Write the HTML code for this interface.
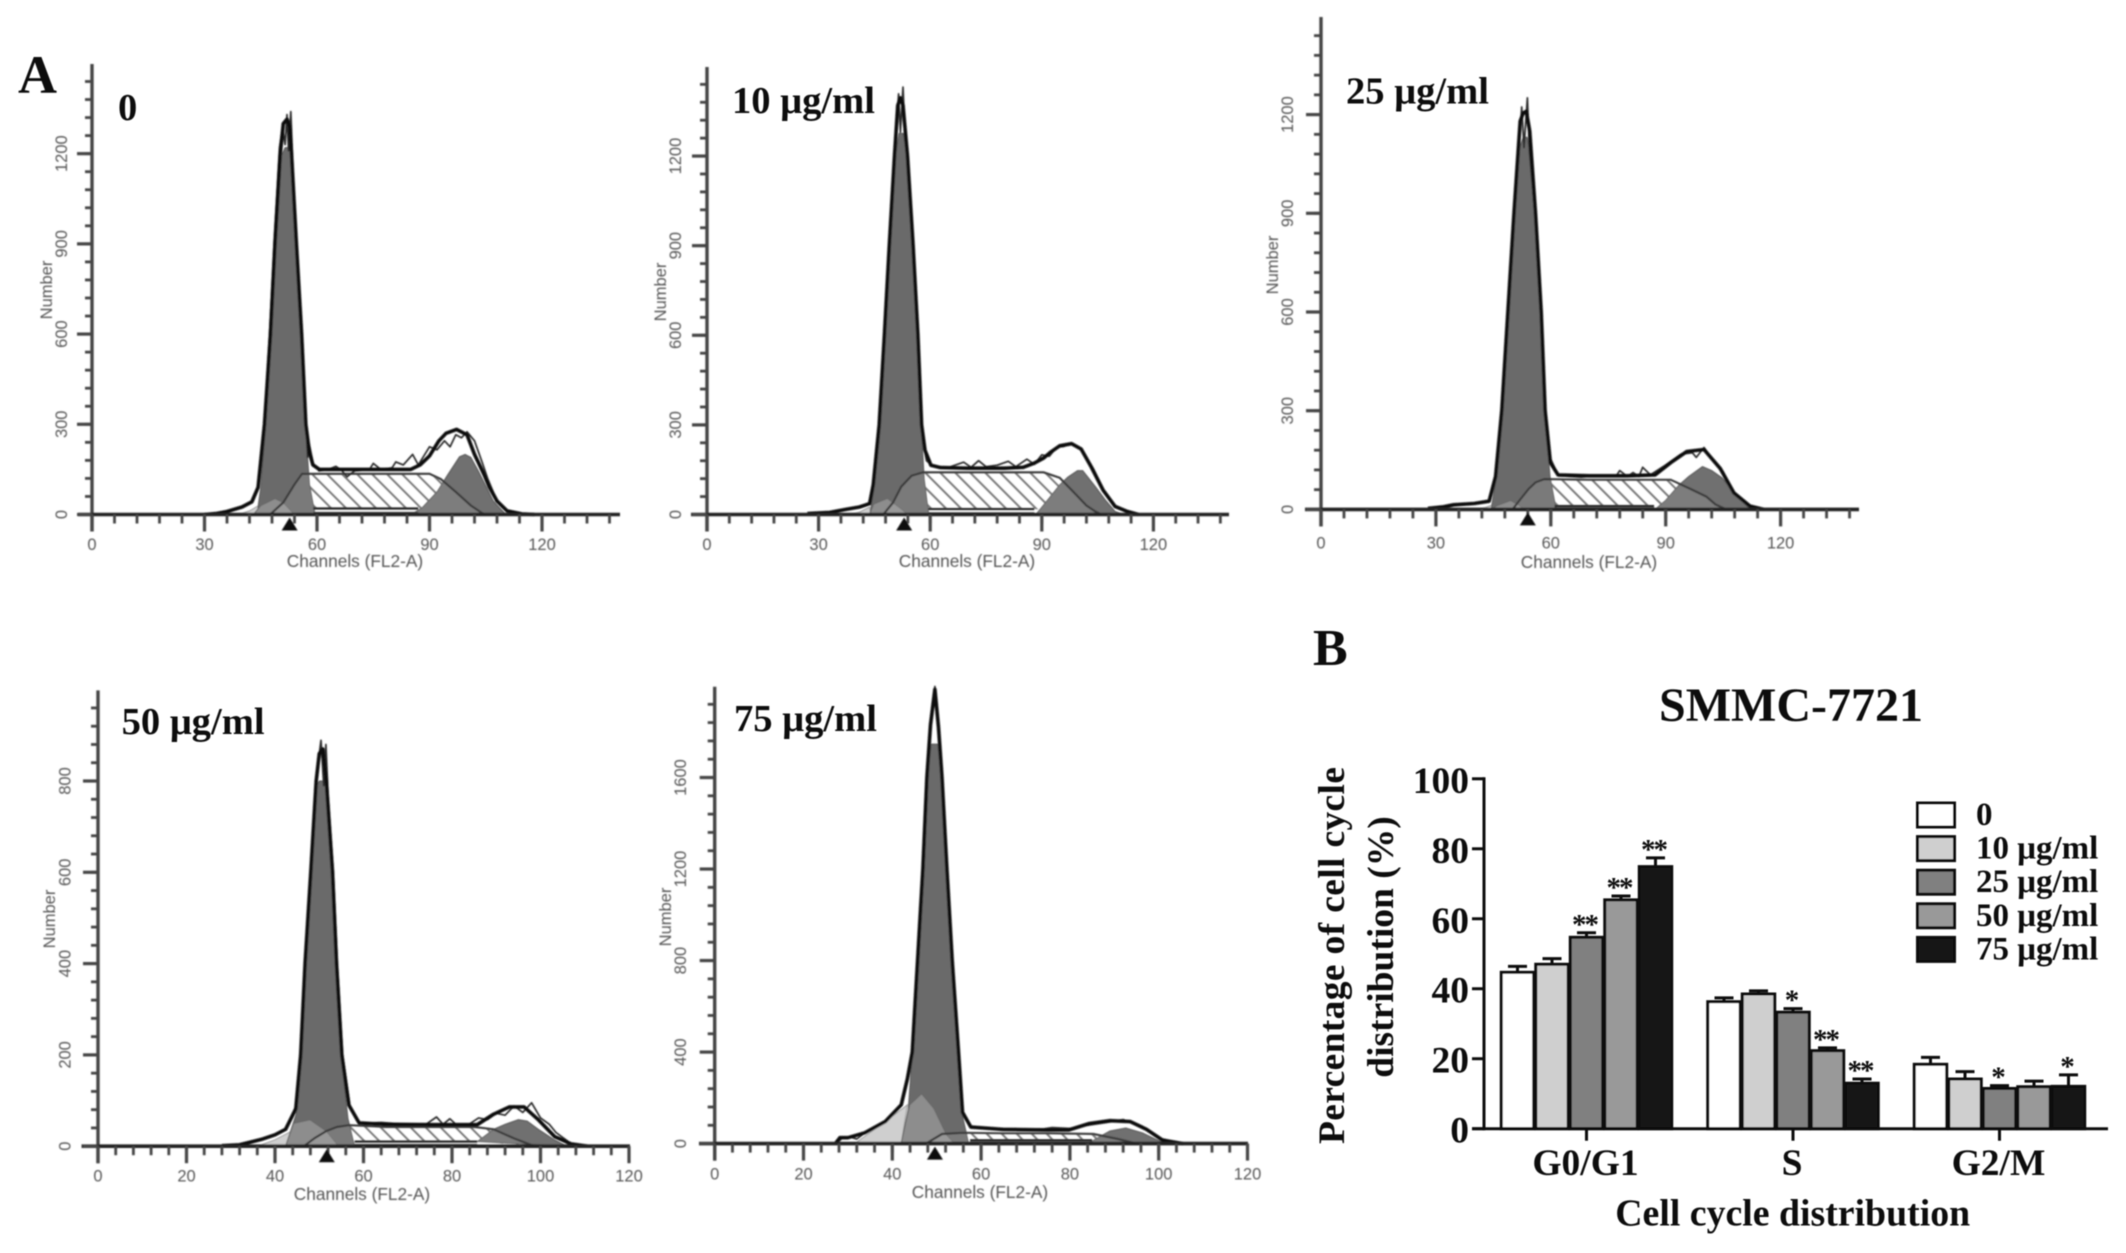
<!DOCTYPE html>
<html lang="en">
<head>
<meta charset="utf-8">
<title>Cell cycle distribution in SMMC-7721 cells</title>
<style>
html,body{margin:0;padding:0;background:#fff;}
svg{display:block;}
.bold{font-family:"Liberation Serif",serif;font-weight:bold;fill:#111;}
.small{font-family:"Liberation Sans",sans-serif;fill:#555;}
</style>
</head>
<body>
<svg id="figure" xmlns="http://www.w3.org/2000/svg" width="2126" height="1253" viewBox="0 0 2126 1253">
<defs>
<filter id="soft" filterUnits="userSpaceOnUse" x="0" y="0" width="2126" height="1253"><feGaussianBlur stdDeviation="0.8"/></filter>
<filter id="softer" filterUnits="userSpaceOnUse" x="0" y="0" width="2126" height="1253"><feGaussianBlur stdDeviation="0.5"/></filter>
<pattern id="hatch" patternUnits="userSpaceOnUse" width="10.6" height="10.6" patternTransform="rotate(-45)"><line x1="2" y1="0" x2="2" y2="10.6" stroke="#666" stroke-width="2"/></pattern>
</defs>
<rect width="2126" height="1253" fill="#fff"/>
<text class="bold" x="18" y="93" font-size="54" filter="url(#softer)">A</text>
<text class="bold" x="1313" y="665" font-size="52" filter="url(#softer)">B</text>
<g id="panels"></g>
<g id="barchart" filter="url(#softer)"></g>
</svg>
<script>
/* ---------- Flow cytometry histogram data: [channel, cell count] ---------- */
const xTicksBy30 = [0, 30, 60, 90, 120];
const xTicksBy20 = [0, 20, 40, 60, 80, 100, 120];
const yTicksBy300 = [0, 300, 600, 900, 1200];
const yTicksBy200 = [0, 200, 400, 600, 800];
const yTicksBy400 = [0, 400, 800, 1200, 1600];

const dose0Fit = [[30,0],[33,3],[36,10],[40,25],[42.6,42],[44.3,90],[46,300],[47.6,600],[48.8,900],[50.2,1200],[51,1300],[52,1315],[52.7,1290],[53.2,1200],[54.5,900],[55.9,600],[57,300],[58,205],[58.9,165],[60.6,150],[70,150],[80,150],[85,150],[87.5,165],[90,195],[92.5,245],[94.4,270],[97.2,283],[100,265],[102,200],[104.5,134],[106,90],[108,45],[110.7,12],[114.6,2],[118,0]];
const dose0Raw = [[31,0],[36,12],[39,22],[41,32],[43,45],[44.5,100],[46,310],[47.4,620],[48.6,920],[50,1220],[50.8,1290],[51.5,1230],[52,1330],[52.4,1210],[53,1340],[53.6,1150],[54.6,900],[56,620],[57,340],[57.5,190],[58,230],[59,170],[60.5,145],[63,150],[65,160],[66.5,148],[68,125],[70,145],[74,150],[75,170],[77,150],[80,155],[81,175],[83,165],[85.5,200],[87,165],[90,225],[92,215],[94,245],[95.5,225],[97,265],[98.5,255],[100,275],[102,245],[104,175],[105.5,120],[108,45],[111,10],[115,1]];
const dose0G1 = [[44,0],[45,90],[46.2,280],[47.8,590],[49,890],[50.4,1190],[51.5,1220],[52.6,1220],[53.1,1190],[54.4,890],[55.8,590],[56.9,290],[58,100],[59.5,0]];
const dose0Apoptotic = [[43,0],[45,30],[48.8,53],[51,40],[54,0]];
const dose0Debris = [[39,0],[42,12],[44.5,30],[45,0]];
const dose0SPhase = [[47.5,0],[51,40],[54,100],[56,135],[60,135],[70,135],[80,135],[90,135],[93,118],[97,75],[101,30],[104,5],[105,0]];
const dose0HatchBase = [[59,20],[87,20]];
const dose0Floor = [[59,6],[87,6]];
const dose0G2 = [[85,0],[88,22],[92,75],[95,135],[98,192],[99.5,200],[101,190],[103,145],[105,95],[107,45],[110,5],[111,0]];
const dose0Marker = 52.7;

const dose10Fit = [[27,3],[33,7],[37.3,17],[41,25],[43.7,36],[44.7,100],[46.3,300],[47.7,600],[49,900],[50.4,1200],[51.3,1370],[52,1395],[52.7,1370],[53.9,1200],[55.4,900],[56.7,600],[57.7,300],[58.6,215],[60.2,165],[62.8,157],[70,155],[80,155],[85,158],[88,172],[90.5,189],[92.5,210],[94.8,230],[98,237],[100.6,219],[103.3,159],[106.5,81],[109.7,27],[113,10],[116,0]];
const dose10Raw = [[28,4],[35,8],[37,18],[41,26],[43.7,40],[45,125],[46.5,330],[47.9,620],[49.2,910],[50.5,1220],[51.5,1408],[52,1280],[52.7,1431],[53.3,1250],[54,1190],[55.5,890],[56.8,610],[57.6,290],[58,245],[59,180],[61,160],[65,158],[69,175],[71,158],[73,180],[75,160],[78,165],[81,178],[83,160],[86,185],[88,168],[90,200],[92,195],[94,225],[96,228],[98,240],[101,215],[104,150],[106.5,85],[110,25],[114,7],[116,0]];
const dose10G1 = [[43.8,0],[44.8,80],[46.4,290],[47.8,590],[49.1,890],[50.5,1190],[51.6,1276],[52.8,1276],[53.8,1190],[55.3,890],[56.6,590],[57.6,290],[58.4,120],[59.6,0]];
const dose10Apoptotic = [[43.7,0],[44.8,35],[48.5,54],[52,21],[54,0]];
const dose10Debris = [[38,0],[41,8],[43.7,25],[44,0]];
const dose10SPhase = [[47.4,0],[50,40],[52.2,93],[55,130],[58,141],[70,141],[80,141],[90.5,141],[94.8,123],[99,69],[102,30],[104.4,10],[106,0]];
const dose10HatchBase = [[59.5,18],[88,18]];
const dose10Floor = [[59.5,5],[88,5]];
const dose10G2 = [[88.4,0],[91,40],[94.8,99],[97,125],[99.6,147],[101,147],[103,115],[104.4,93],[107,50],[109.7,10],[112,0]];
const dose10Marker = 53;

const dose25Fit = [[27.9,3],[32,8],[34.6,14],[40,18],[43.9,25],[45.6,100],[47.2,300],[48.8,600],[50.4,900],[52,1180],[52.8,1205],[53.6,1210],[54.5,1150],[56,900],[57.5,600],[58.5,300],[59.9,142],[61.9,105],[70,102],[80,102],[87.2,105],[91.3,142],[95.5,176],[100,182],[104.2,125],[107.8,50],[112,10],[115.6,0]];
const dose25Raw = [[28,3],[34,12],[38,15],[42,20],[44,28],[45.8,110],[47.4,320],[49,620],[50.6,910],[52,1150],[52.4,1223],[53,1100],[53.9,1251],[54.4,1090],[55.9,890],[57.4,610],[58.5,320],[59.5,165],[62,102],[68,98],[72,102],[77,100],[78,118],[80,100],[81.5,112],[83,100],[84,128],[86,105],[90,135],[94,168],[97,172],[98,158],[100,188],[103,140],[105,115],[108,45],[112,10],[115,1]];
const dose25G1 = [[44.4,0],[45.7,90],[47.3,290],[48.9,590],[50.5,890],[51.9,1100],[52.8,1131],[53.8,1131],[54.5,1090],[55.9,890],[57.4,590],[58.5,290],[59.8,100],[61.4,0]];
const dose25Apoptotic = [[44.4,0],[46,12],[49.5,27],[51.5,15],[53,0]];
const dose25Debris = [[40,0],[43,6],[45,14],[45.5,0]];
const dose25SPhase = [[50,0],[52,30],[54.2,62],[56,82],[58.3,92],[70,90],[80,90],[91.3,90],[96.5,62],[100.6,39],[103,15],[105.8,0]];
const dose25HatchBase = [[61,10],[87,10]];
const dose25Floor = [[61,3],[87,3]];
const dose25G2 = [[87.2,0],[90,28],[93.4,73],[96,100],[99.6,130],[102,118],[104.7,96],[108,50],[112,0]];
const dose25Marker = 54;

const dose50Fit = [[28,1],[32,3],[36.9,15],[40,25],[42.4,37],[44.7,82],[45.8,200],[46.8,400],[48.1,600],[49.3,800],[50,860],[50.8,870],[51.6,800],[53,600],[53.9,400],[55.1,200],[56.7,90],[59,51],[65,48],[75,47],[85.7,47],[89.4,70],[93,86],[96.3,86],[99.5,58],[103.2,21],[106.9,5],[110.6,0]];
const dose50Raw = [[28,1],[33,4],[37,16],[40,26],[42.6,40],[44.8,90],[46,210],[47,410],[48.3,610],[49.5,810],[50,860],[50.4,889],[51,790],[51.5,880],[52,770],[53.2,600],[54.1,400],[55.3,200],[57,85],[59,50],[64,52],[70,48],[74,47],[76.5,64],[78,48],[79.5,60],[81,47],[84,49],[86,62],[88,58],[90,72],[92,68],[94,88],[96,74],[98,95],[100,62],[102,48],[103.5,30],[107,5],[110,0]];
const dose50G1 = [[42.4,0],[44.8,70],[45.9,190],[46.9,390],[48.2,590],[49.4,790],[50,800],[51,800],[51.5,790],[52.9,590],[53.8,390],[55,190],[56.5,60],[58,0]];
const dose50Apoptotic = [[42.4,0],[44.2,50],[47.9,58],[51.6,33],[54.4,0]];
const dose50Debris = [[36,0],[40,14],[43.8,33],[43,0]];
const dose50SPhase = [[46.5,0],[49,18],[51.6,33],[54,42],[56.7,46],[65,42],[75,42],[85,42],[89.4,37],[94,17],[98.6,0]];
const dose50HatchBase = [[58,10],[85.7,10]];
const dose50Floor = [[58,3],[85.7,3]];
const dose50G2 = [[85.7,10],[89.4,37],[92,48],[95,58],[97,55],[99.5,37],[103,15],[106,0]];
const dose50Marker = 51.7;

const dose75Fit = [[27.3,3],[28.2,26],[30,26],[33.8,47],[38.4,96],[42,169],[43.4,283],[44.5,400],[45.7,800],[46.9,1200],[47.8,1600],[48.6,1830],[49.6,1985],[50.4,1820],[51.2,1600],[52.3,1200],[53.5,800],[54.9,400],[55.8,137],[57.7,72],[65,62],[75,60],[79.8,60],[84.4,88],[89,100],[93.6,96],[97.2,63],[100.9,15],[105.5,0]];
const dose75Raw = [[28,10],[29,30],[31,26],[32,20],[34,50],[38.5,100],[42.2,175],[43.6,290],[44.7,410],[45.9,810],[47.1,1210],[48,1610],[48.7,1830],[49.6,1998],[50.5,1820],[51.3,1590],[52.4,1190],[53.6,790],[55,390],[56,130],[58,70],[64,66],[74,64],[76,70],[80,66],[84,80],[88,92],[92,105],[96,75],[100,25],[105,0]];
const dose75G1 = [[42,0],[43.6,150],[44.5,390],[45.7,790],[46.9,1190],[47.8,1590],[48.8,1746],[50.2,1746],[51.1,1590],[52.2,1190],[53.4,790],[54.8,390],[55.7,130],[57.2,0]];
const dose75Apoptotic = [[42,0],[43.9,169],[46.6,218],[49.4,153],[52.2,39],[54,0]];
const dose75Debris = [[31.5,0],[38.4,96],[43.4,169],[42,0]];
const dose75SPhase = [[47.6,0],[51.2,42],[55.8,47],[65,45],[75,45],[85.3,42],[90.8,20],[95,0]];
const dose75HatchBase = [[57.5,15],[85,15]];
const dose75Floor = [[57.5,4],[85,4]];
const dose75G2 = [[84.4,5],[89,55],[92.6,68],[96.3,47],[101.4,0]];
const dose75Marker = 49.6;

/* ---------- Bar chart data ---------- */
const phaseCategories = ['G0/G1', 'S', 'G2/M'];
const doseLabels = ['0', '10 μg/ml', '25 μg/ml', '50 μg/ml', '75 μg/ml'];
const phaseMeans = [
  [44.7, 47.0, 54.7, 65.4, 74.9],
  [36.3, 38.5, 33.3, 22.3, 13.0],
  [18.4, 14.2, 11.5, 12.0, 12.1]
];
const phaseErrorTops = [
  [46.4, 48.6, 56.0, 66.5, 77.4],
  [37.4, 39.4, 34.3, 23.1, 14.2],
  [20.4, 16.3, 12.3, 13.6, 15.4]
];
const phaseStars = [
  ['', '', '**', '**', '**'],
  ['', '', '*', '**', '**'],
  ['', '', '*', '', '*']
];
const percentTicks = [0, 20, 40, 60, 80, 100];

/* ---------- Drawing ---------- */
const NS = 'http://www.w3.org/2000/svg';
function make(parent, tag, attrs, text) {
  const el = document.createElementNS(NS, tag);
  for (const k in attrs) el.setAttribute(k, attrs[k]);
  if (text !== undefined) el.textContent = text;
  parent.appendChild(el);
  return el;
}

const panelDefs = [
  {id:'dose-0', title:'0', tx:118, ty:120, x0:92, xs:3.75, y0:514.5, ys:0.3007, top:64, xEnd:620, left:78, xTicks:xTicksBy30, xMinor:6, yTicks:yTicksBy300, yMinor:60, numX:46, numY:290, tickX:61, xTickY:544, xLabX:355, xLabY:561,
   fit:dose0Fit, raw:dose0Raw, g1:dose0G1, apo:dose0Apoptotic, deb:dose0Debris, s:dose0SPhase, base:dose0HatchBase, floor:dose0Floor, g2:dose0G2, marker:dose0Marker},
  {id:'dose-10', title:'10 μg/ml', tx:732, ty:113, x0:707, xs:3.72, y0:514.5, ys:0.2987, top:67, xEnd:1229, left:691, xTicks:xTicksBy30, xMinor:6, yTicks:yTicksBy300, yMinor:60, numX:660, numY:292, tickX:675, xTickY:544, xLabX:967, xLabY:561,
   fit:dose10Fit, raw:dose10Raw, g1:dose10G1, apo:dose10Apoptotic, deb:dose10Debris, s:dose10SPhase, base:dose10HatchBase, floor:dose10Floor, g2:dose10G2, marker:dose10Marker},
  {id:'dose-25', title:'25 μg/ml', tx:1346, ty:103.5, x0:1321, xs:3.83, y0:509.4, ys:0.329, top:17, xEnd:1859, left:1305, xTicks:xTicksBy30, xMinor:6, yTicks:yTicksBy300, yMinor:60, numX:1272, numY:265, tickX:1287, xTickY:542.5, xLabX:1589, xLabY:562,
   fit:dose25Fit, raw:dose25Raw, g1:dose25G1, apo:dose25Apoptotic, deb:dose25Debris, s:dose25SPhase, base:dose25HatchBase, floor:dose25Floor, g2:dose25G2, marker:dose25Marker},
  {id:'dose-50', title:'50 μg/ml', tx:121.6, ty:734, x0:98, xs:4.425, y0:1146.2, ys:0.4565, top:690.4, xEnd:630, left:81.6, xTicks:xTicksBy20, xMinor:4, yTicks:yTicksBy200, yMinor:40, numX:49, numY:919, tickX:64.5, xTickY:1175.6, xLabX:362, xLabY:1194,
   fit:dose50Fit, raw:dose50Raw, g1:dose50G1, apo:dose50Apoptotic, deb:dose50Debris, s:dose50SPhase, base:dose50HatchBase, floor:dose50Floor, g2:dose50G2, marker:dose50Marker},
  {id:'dose-75', title:'75 μg/ml', tx:734, ty:731, x0:714.7, xs:4.44, y0:1143.6, ys:0.2288, top:686.7, xEnd:1248, left:699, xTicks:xTicksBy20, xMinor:4, yTicks:yTicksBy400, yMinor:80, numX:665, numY:917, tickX:680, xTickY:1173.7, xLabX:980, xLabY:1192,
   fit:dose75Fit, raw:dose75Raw, g1:dose75G1, apo:dose75Apoptotic, deb:dose75Debris, s:dose75SPhase, base:dose75HatchBase, floor:dose75Floor, g2:dose75G2, marker:dose75Marker}
];

const panelsRoot = document.getElementById('panels');
panelDefs.forEach(function (p) {
  const X = function (c) { return p.x0 + c * p.xs; };
  const Y = function (n) { return p.y0 - n * p.ys; };
  const pts = function (arr) { return arr.map(function (d) { return X(d[0]).toFixed(1) + ',' + Y(d[1]).toFixed(1); }).join(' '); };

  const g = make(panelsRoot, 'g', {});
  
  

  const soft = make(g, 'g', {filter: 'url(#soft)'});
  
  

  const hatchPts = p.s.concat(p.base.slice().reverse());
  const hatch = make(soft, 'polygon', {points: pts(hatchPts), fill: 'url(#hatch)'});
  
  

  const debris = make(soft, 'polygon', {points: pts(p.deb), fill: '#cfcfcf', stroke: '#999', 'stroke-width': 1});
  
  

  const g1 = make(soft, 'polygon', {points: pts(p.g1), fill: '#6b6b6b', stroke: '#555', 'stroke-width': 1});
  
  

  const g2 = make(soft, 'polygon', {points: pts(p.g2), fill: '#6f6f6f', stroke: '#555', 'stroke-width': 1});
  
  

  const apo = make(soft, 'polygon', {points: pts(p.apo), fill: '#8d8d8d', stroke: '#666', 'stroke-width': 1});
  
  

  const sTint = make(soft, 'polygon', {points: pts(p.s), fill: '#fff', 'fill-opacity': 0.1, stroke: 'none'});
  
  

  const sLine = make(soft, 'polyline', {points: pts(p.s), fill: 'none', stroke: '#3a3a3a', 'stroke-width': 2.2});
  
  

  const baseLine = make(soft, 'polyline', {points: pts(p.base), fill: 'none', stroke: '#222', 'stroke-width': 2.4});
  
  

  const floorLine = make(soft, 'polyline', {points: pts(p.floor), fill: 'none', stroke: '#444', 'stroke-width': 1.8});
  
  

  const raw = make(soft, 'polyline', {points: pts(p.raw), fill: 'none', stroke: '#2a2a2a', 'stroke-width': 1.7, 'stroke-linejoin': 'round'});
  
  

  const fit = make(soft, 'polyline', {points: pts(p.fit), fill: 'none', stroke: '#111', 'stroke-width': 3.6, 'stroke-linejoin': 'round'});
  
  

  const yAxis = make(soft, 'line', {x1: p.x0, y1: p.top, x2: p.x0, y2: p.y0 + 17, stroke: '#444', 'stroke-width': 3.4});
  
  

  const xAxis = make(soft, 'line', {x1: p.left, y1: p.y0, x2: p.xEnd, y2: p.y0, stroke: '#222', 'stroke-width': 3.6});
  
  

  const xMax = (p.xEnd - p.x0) / p.xs;
  for (let c = p.xMinor; c <= xMax; c += p.xMinor) {
    const tick = make(soft, 'line', {x1: X(c), y1: p.y0, x2: X(c), y2: p.y0 + 9, stroke: '#444', 'stroke-width': 2.8});
    
    
  }
  p.xTicks.forEach(function (c) {
    const tick = make(soft, 'line', {x1: X(c), y1: p.y0, x2: X(c), y2: p.y0 + 17, stroke: '#444', 'stroke-width': 3.2});
    
    
    const label = make(soft, 'text', {x: X(c), y: p.xTickY + 6, 'text-anchor': 'middle', 'font-size': 16.5, class: 'small'}, String(c));
    
    
  });

  const yMax = (p.y0 - p.top) / p.ys;
  for (let n = p.yMinor; n <= yMax; n += p.yMinor) {
    const tick = make(soft, 'line', {x1: p.x0 - 7, y1: Y(n), x2: p.x0, y2: Y(n), stroke: '#444', 'stroke-width': 2.8});
    
    
  }
  p.yTicks.forEach(function (n) {
    const tick = make(soft, 'line', {x1: p.x0 - 15, y1: Y(n), x2: p.x0, y2: Y(n), stroke: '#444', 'stroke-width': 3.2});
    
    
    const label = make(soft, 'text', {x: 0, y: 0, 'text-anchor': 'middle', 'font-size': 16.5, class: 'small', transform: 'translate(' + (p.tickX + 6) + ' ' + Y(n) + ') rotate(-90)'}, String(n));
    
    
  });

  const marker = make(soft, 'polygon', {points: (X(p.marker) - 8) + ',' + (p.y0 + 16) + ' ' + (X(p.marker) + 8) + ',' + (p.y0 + 16) + ' ' + X(p.marker) + ',' + (p.y0 + 3), fill: '#111'});
  
  

  const numTitle = make(soft, 'text', {x: 0, y: 0, 'text-anchor': 'middle', 'font-size': 16.5, class: 'small', transform: 'translate(' + (p.numX + 6) + ' ' + p.numY + ') rotate(-90)'}, 'Number');
  
  

  const chTitle = make(soft, 'text', {x: p.xLabX, y: p.xLabY + 6, 'text-anchor': 'middle', 'font-size': 17.3, class: 'small'}, 'Channels (FL2-A)');
  
  

  const title = make(g, 'text', {x: p.tx, y: p.ty, 'font-size': 38.6, class: 'bold', filter: 'url(#softer)'}, p.title);
  
  
});

/* Bar chart */
const barRoot = document.getElementById('barchart');
const barFills = ['#ffffff', '#cfcfcf', '#808080', '#999999', '#141414'];
const groupCenters = [1586.5, 1793, 1999.5];
const barPitch = 34.5;
const barY = function (v) { return 1128.7 - v * 3.499; };
const barX = function (g, i) { return groupCenters[g] - 2.5 * barPitch + i * barPitch; };

const chartTitle = make(barRoot, 'text', {x: 1791, y: 721, 'text-anchor': 'middle', 'font-size': 48, class: 'bold'}, 'SMMC-7721');



phaseMeans.forEach(function (series, g) {
  series.forEach(function (v, i) {
    const cx = barX(g, i) + barPitch / 2;
    const stem = make(barRoot, 'line', {x1: cx, y1: barY(v), x2: cx, y2: barY(phaseErrorTops[g][i]), stroke: '#111', 'stroke-width': 3});
    
    
    const cap = make(barRoot, 'line', {x1: cx - 9.5, y1: barY(phaseErrorTops[g][i]), x2: cx + 9.5, y2: barY(phaseErrorTops[g][i]), stroke: '#111', 'stroke-width': 3});
    
    
    const bar = make(barRoot, 'rect', {x: barX(g, i) + 1, y: barY(v), width: barPitch - 2, height: barY(0) - barY(v), fill: barFills[i], stroke: '#111', 'stroke-width': 3});
    
    
    if (phaseStars[g][i]) {
      const star = make(barRoot, 'text', {x: cx - 2, y: barY(phaseErrorTops[g][i]) + 1, 'text-anchor': 'middle', 'font-size': 29, 'letter-spacing': -2, class: 'bold'}, phaseStars[g][i]);
      
      
    }
  });
  const catTick = make(barRoot, 'line', {x1: groupCenters[g], y1: barY(0), x2: groupCenters[g], y2: barY(0) + 12, stroke: '#111', 'stroke-width': 3});
  
  
  const catLabel = make(barRoot, 'text', {x: groupCenters[g] - 1, y: 1175, 'text-anchor': 'middle', 'font-size': 37.5, class: 'bold'}, phaseCategories[g]);
  
  
});

const barYAxis = make(barRoot, 'line', {x1: 1484, y1: barY(100) - 1.5, x2: 1484, y2: barY(0) + 1.5, stroke: '#111', 'stroke-width': 3});


const barXAxis = make(barRoot, 'line', {x1: 1472, y1: barY(0), x2: 2108, y2: barY(0), stroke: '#111', 'stroke-width': 3});



percentTicks.forEach(function (v) {
  const tick = make(barRoot, 'line', {x1: 1472, y1: barY(v), x2: 1484, y2: barY(v), stroke: '#111', 'stroke-width': 3});
  
  
  const label = make(barRoot, 'text', {x: 1469, y: barY(v) + 14, 'text-anchor': 'end', 'font-size': 37.5, class: 'bold'}, String(v));
  
  
});

const yTitle1 = make(barRoot, 'text', {x: 0, y: 0, 'text-anchor': 'middle', 'font-size': 37.5, class: 'bold', textLength: 377, lengthAdjust: 'spacing', transform: 'translate(1344 955.5) rotate(-90)'}, 'Percentage of cell cycle');


const yTitle2 = make(barRoot, 'text', {x: 0, y: 0, 'text-anchor': 'middle', 'font-size': 37.5, class: 'bold', transform: 'translate(1393 947) rotate(-90)'}, 'distribution (%)');


const xTitle = make(barRoot, 'text', {x: 1792.7, y: 1225.6, 'text-anchor': 'middle', 'font-size': 37.8, class: 'bold'}, 'Cell cycle distribution');



doseLabels.forEach(function (label, i) {
  const top = 803 + i * 33.6;
  const swatch = make(barRoot, 'rect', {x: 1917.5, y: top, width: 37, height: 24, fill: barFills[i], stroke: '#111', 'stroke-width': 3});
  
  
  const text = make(barRoot, 'text', {x: 1976, y: top + 22, 'font-size': 33, class: 'bold'}, label);
  
  
});
</script>
</body>
</html>
